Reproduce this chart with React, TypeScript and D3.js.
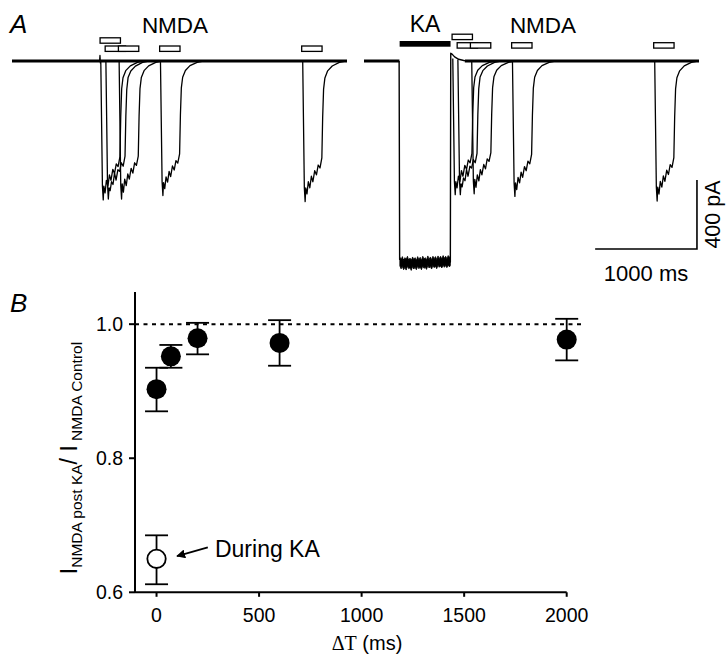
import React from 'react';
import * as d3 from 'd3';

const W = 726;
const H = 656;
const FONT = '"Liberation Sans", Arial, sans-serif';

// ---- panel A : current traces (ms, pA) ----
const sweepSpan = [0, 3290];
const nmdaStarts = [865, 915, 1045, 1450, 2845];
const nmdaRows = [0, 1, 1, 1, 1];
const nmdaDur = 200;
const kaWindow = [350, 850];

const controlSweeps: [number, number][][] = [
  [[860, 0], [864, 32], [868, -12], [872, 0], [880, -362], [888, -725], [896, -805], [902, -725], [914, -765], [927, -692], [942, -725], [957, -660], [972, -692], [990, -628], [1007, -652], [1024, -596], [1042, -612], [1060, -555], [1068, -322], [1077, -161], [1090, -97], [1117, -56], [1162, -28], [1232, -8], [1292, 0]],
  [[922, 0], [930, -350], [938, -715], [946, -800], [953, -735], [964, -752], [977, -700], [992, -716], [1007, -650], [1022, -690], [1040, -630], [1057, -640], [1074, -590], [1092, -610], [1110, -552], [1118, -320], [1127, -165], [1140, -96], [1167, -58], [1212, -30], [1282, -8], [1342, 0]],
  [[1052, 0], [1060, -355], [1068, -720], [1076, -800], [1082, -712], [1094, -760], [1107, -685], [1122, -722], [1137, -655], [1152, -685], [1170, -622], [1187, -650], [1204, -590], [1222, -605], [1240, -552], [1248, -320], [1257, -160], [1270, -96], [1297, -56], [1342, -28], [1412, -8], [1472, 0]],
  [[1458, 0], [1466, -350], [1474, -700], [1482, -780], [1488, -705], [1500, -740], [1513, -672], [1528, -702], [1543, -640], [1558, -670], [1576, -608], [1593, -632], [1610, -578], [1628, -592], [1646, -538], [1654, -312], [1663, -156], [1676, -94], [1703, -55], [1748, -27], [1818, -8], [1878, 0]],
  [[2855, 0], [2863, -365], [2871, -735], [2879, -815], [2885, -735], [2897, -770], [2910, -700], [2925, -735], [2940, -668], [2955, -700], [2973, -636], [2990, -660], [3007, -603], [3025, -620], [3043, -562], [3051, -326], [3060, -163], [3073, -98], [3100, -57], [3145, -29], [3215, -8], [3275, 0]],
];

const postKaSweeps: [number, number][][] = [
  [[872, 15], [880, -340], [888, -700], [896, -775], [902, -700], [914, -735], [927, -668], [942, -700], [957, -636], [972, -668], [990, -605], [1007, -628], [1024, -574], [1042, -590], [1060, -535], [1068, -310], [1077, -155], [1090, -93], [1117, -54], [1162, -27], [1232, -8], [1292, 0]],
  [[922, 8], [930, -340], [938, -695], [946, -775], [953, -712], [964, -730], [977, -678], [992, -694], [1007, -630], [1022, -668], [1040, -610], [1057, -620], [1074, -572], [1092, -590], [1110, -535], [1118, -310], [1127, -160], [1140, -93], [1167, -56], [1212, -29], [1282, -8], [1342, 0]],
  [[1058, 0], [1066, -345], [1074, -695], [1082, -770], [1088, -686], [1100, -732], [1113, -660], [1128, -695], [1143, -630], [1158, -660], [1176, -600], [1193, -625], [1210, -568], [1228, -582], [1246, -531], [1254, -308], [1263, -154], [1276, -92], [1303, -54], [1348, -27], [1418, -8], [1478, 0]],
  [[1458, 0], [1466, -352], [1474, -705], [1482, -785], [1488, -706], [1500, -745], [1513, -675], [1528, -706], [1543, -644], [1558, -675], [1576, -612], [1593, -636], [1610, -581], [1628, -596], [1646, -542], [1654, -314], [1663, -157], [1676, -94], [1703, -55], [1748, -27], [1818, -8], [1878, 0]],
  [[2855, 0], [2863, -365], [2871, -730], [2879, -812], [2885, -731], [2897, -771], [2910, -698], [2925, -731], [2940, -666], [2955, -698], [2973, -633], [2990, -658], [3007, -601], [3025, -617], [3043, -560], [3051, -325], [3060, -162], [3073, -97], [3100, -57], [3145, -28], [3215, -8], [3275, 0]],
];

const kaSweep: [number, number][] = [
  [345, 0], [350, -1150], [848, -1165], [852, 45], [865, 40], [890, 24], [930, 10], [980, 3], [1040, 0],
];

// KA plateau noise band: time, upper edge, lower edge
const kaNoise: [number, number, number][] = [
  [352, -1138, -1188], [364, -1152, -1205], [377, -1134, -1192], [389, -1158, -1210], [402, -1140, -1196],
  [414, -1150, -1212], [427, -1132, -1190], [439, -1156, -1204], [452, -1142, -1198], [464, -1160, -1214],
  [477, -1136, -1192], [489, -1150, -1206], [502, -1140, -1196], [514, -1158, -1210], [527, -1134, -1190],
  [539, -1152, -1204], [552, -1138, -1194], [564, -1156, -1210], [577, -1132, -1188], [589, -1148, -1202],
  [602, -1140, -1196], [614, -1154, -1208], [627, -1130, -1186], [639, -1150, -1200], [652, -1136, -1192],
  [664, -1152, -1206], [677, -1132, -1186], [689, -1146, -1198], [702, -1134, -1190], [714, -1150, -1204],
  [727, -1130, -1184], [739, -1146, -1196], [752, -1132, -1188], [764, -1148, -1200], [777, -1128, -1184],
  [789, -1144, -1196], [802, -1132, -1186], [814, -1146, -1198], [827, -1128, -1182], [839, -1142, -1194],
  [848, -1130, -1186],
];

const rightBaselineSpans = [[0, 348], [990, 3290]];

const scaleBarT = [2270, 3270];
const scaleBarPa = [-690, -1090];

// ---- panel B : ratio vs delta T ----
const deltaT = [0, 70, 200, 600, 2000];
const ratioMean = [0.903, 0.952, 0.979, 0.972, 0.977];
const ratioHi = [0.935, 0.969, 1.002, 1.006, 1.008];
const ratioLo = [0.870, 0.935, 0.955, 0.938, 0.946];

const duringKaT = [0];
const duringKaMean = [0.650];
const duringKaHi = [0.685];
const duringKaLo = [0.612];

const xTicks = [0, 500, 1000, 1500, 2000];
const yTicks = [0.6, 0.8, 1.0];
const refLineEnd = 2075;

export default function App() {
  const xL = d3.scaleLinear().domain(sweepSpan).range([12, 347]);
  const xR = d3.scaleLinear().domain(sweepSpan).range([364, 699]);
  const yA = d3.scaleLinear().domain([-1200, 0]).range([268, 61]);

  const lineL = d3.line<[number, number]>().x(d => xL(d[0])).y(d => yA(d[1]));
  const lineR = d3.line<[number, number]>().x(d => xR(d[0])).y(d => yA(d[1]));
  const noiseArea = d3.area<[number, number, number]>()
    .x(d => xR(d[0])).y0(d => yA(d[1])).y1(d => yA(d[2]));

  const x = d3.scaleLinear().domain([-105, 2000]).range([135, 566.7]);
  const y = d3.scaleLinear().domain([0.6, 1.048]).range([592.3, 292]);

  const capW = 11.5;
  const r = 10;

  const leftRowY = [37.8, 46];
  const rightRowY = [34.2, 42.7];
  const barH = 5.4;

  const arrowFrom: [number, number] = [250, 0.667];
  const arrowTo: [number, number] = [100, 0.654];

  return (
    <svg width={W} height={H} style={{ position: 'absolute', left: 0, top: 0, background: '#fff' }}
      fontFamily={FONT}>
      <defs>
        <marker id="arrowHead" viewBox="0 0 10 10" refX="9" refY="5" markerWidth="5" markerHeight="5"
          orient="auto" markerUnits="strokeWidth">
          <path d="M0,0 L10,5 L0,10 z" fill="#000" />
        </marker>
      </defs>

      {/* ---- Panel A ---- */}
      <text x={10} y={33} fontSize={26} fontStyle="italic">A</text>
      <text x={175} y={33} fontSize={22.5} textAnchor="middle">NMDA</text>
      <text x={xR(600)} y={32.3} fontSize={23} textAnchor="middle">KA</text>
      <text x={543} y={33.3} fontSize={22.5} textAnchor="middle">NMDA</text>

      {nmdaStarts.map((s, i) => (
        <rect key={'bl' + i} x={xL(s)} y={leftRowY[nmdaRows[i]]} width={xL(s + nmdaDur) - xL(s)} height={barH}
          fill="#fff" stroke="#000" strokeWidth={1.3} />
      ))}
      {nmdaStarts.map((s, i) => (
        <rect key={'br' + i} x={xR(s)} y={rightRowY[nmdaRows[i]]} width={xR(s + nmdaDur) - xR(s)} height={barH}
          fill="#fff" stroke="#000" strokeWidth={1.3} />
      ))}
      <rect x={xR(kaWindow[0])} y={41} width={xR(kaWindow[1]) - xR(kaWindow[0])} height={5.7} fill="#000" />

      {/* left traces */}
      <line x1={xL(sweepSpan[0])} x2={xL(sweepSpan[1])} y1={yA(0)} y2={yA(0)} stroke="#000" strokeWidth={2.8} />
      {controlSweeps.map((s, i) => (
        <path key={'cs' + i} d={lineL(s) || ''} fill="none" stroke="#000" strokeWidth={1.3} strokeLinejoin="round" />
      ))}

      {/* right traces */}
      {rightBaselineSpans.map((sp, i) => (
        <line key={'rb' + i} x1={xR(sp[0])} x2={xR(sp[1])} y1={yA(0)} y2={yA(0)} stroke="#000" strokeWidth={2.8} />
      ))}
      <path d={lineR(kaSweep) || ''} fill="none" stroke="#000" strokeWidth={1.4} strokeLinejoin="round" />
      <path d={noiseArea(kaNoise) || ''} fill="#000" stroke="#000" strokeWidth={0.8} />
      {postKaSweeps.map((s, i) => (
        <path key={'ps' + i} d={lineR(s) || ''} fill="none" stroke="#000" strokeWidth={1.3} strokeLinejoin="round" />
      ))}

      {/* scale bar */}
      <path d={`M${xR(scaleBarT[0])},${yA(scaleBarPa[1])} H${xR(scaleBarT[1])} V${yA(scaleBarPa[0])}`}
        fill="none" stroke="#000" strokeWidth={1.6} />
      <text x={(xR(scaleBarT[0]) + xR(scaleBarT[1])) / 2} y={281} fontSize={22} textAnchor="middle">1000 ms</text>
      <text transform={`translate(719.5,${(yA(scaleBarPa[0]) + yA(scaleBarPa[1])) / 2}) rotate(-90)`}
        fontSize={21.5} textAnchor="middle">400 pA</text>

      {/* ---- Panel B ---- */}
      <text x={10} y={312} fontSize={26} fontStyle="italic">B</text>

      <line x1={x(-105)} x2={x(refLineEnd)} y1={y(1)} y2={y(1)} stroke="#000" strokeWidth={2} strokeDasharray="4,4.5" />

      {/* axes */}
      <line x1={x(-105)} x2={x(-105)} y1={y(1.048)} y2={y(0.6)} stroke="#000" strokeWidth={2} />
      <line x1={x(-105)} x2={x(2000)} y1={y(0.6)} y2={y(0.6)} stroke="#000" strokeWidth={2} />
      {yTicks.map(t => (
        <g key={'yt' + t}>
          <line x1={x(-105) - 6} x2={x(-105)} y1={y(t)} y2={y(t)} stroke="#000" strokeWidth={2} />
          <text x={123} y={y(t) + 7} fontSize={19.5} textAnchor="end">{t.toFixed(1)}</text>
        </g>
      ))}
      {xTicks.map(t => (
        <g key={'xt' + t}>
          <line x1={x(t)} x2={x(t)} y1={y(0.6)} y2={y(0.6) + 4.5} stroke="#000" strokeWidth={2} />
          <text x={x(t)} y={622} fontSize={19.5} textAnchor="middle">{t}</text>
        </g>
      ))}

      <text x={367} y={650} fontSize={20} textAnchor="middle">
        <tspan fontFamily='"Liberation Serif", "Times New Roman", serif'>ΔT</tspan> (ms)
      </text>

      <text transform="translate(77,458) rotate(-90)" textAnchor="middle" fontSize={23}>
        <tspan>I</tspan>
        <tspan fontSize={15.5} dy={5}>NMDA post KA</tspan>
        <tspan dy={-5}>/ I</tspan>
        <tspan fontSize={15.5} dy={5}> NMDA Control</tspan>
      </text>

      {/* error bars */}
      {deltaT.map((t, i) => (
        <g key={'eb' + i} stroke="#000" strokeWidth={1.8}>
          <line x1={x(t)} x2={x(t)} y1={y(ratioHi[i])} y2={y(ratioLo[i])} />
          <line x1={x(t) - capW} x2={x(t) + capW} y1={y(ratioHi[i])} y2={y(ratioHi[i])} />
          <line x1={x(t) - capW} x2={x(t) + capW} y1={y(ratioLo[i])} y2={y(ratioLo[i])} />
        </g>
      ))}
      {duringKaT.map((t, i) => (
        <g key={'ek' + i} stroke="#000" strokeWidth={1.8}>
          <line x1={x(t)} x2={x(t)} y1={y(duringKaHi[i])} y2={y(duringKaLo[i])} />
          <line x1={x(t) - capW} x2={x(t) + capW} y1={y(duringKaHi[i])} y2={y(duringKaHi[i])} />
          <line x1={x(t) - capW} x2={x(t) + capW} y1={y(duringKaLo[i])} y2={y(duringKaLo[i])} />
        </g>
      ))}
      {deltaT.map((t, i) => (
        <circle key={'pt' + i} cx={x(t)} cy={y(ratioMean[i])} r={r} fill="#000" />
      ))}
      {duringKaT.map((t, i) => (
        <circle key={'pk' + i} cx={x(t)} cy={y(duringKaMean[i])} r={r - 0.8} fill="#fff" stroke="#000" strokeWidth={1.8} />
      ))}

      <line x1={x(arrowFrom[0])} y1={y(arrowFrom[1])} x2={x(arrowTo[0])} y2={y(arrowTo[1])}
        stroke="#000" strokeWidth={1.8} markerEnd="url(#arrowHead)" />
      <text x={x(285)} y={y(0.653)} fontSize={23}>During KA</text>
    </svg>
  );
}
